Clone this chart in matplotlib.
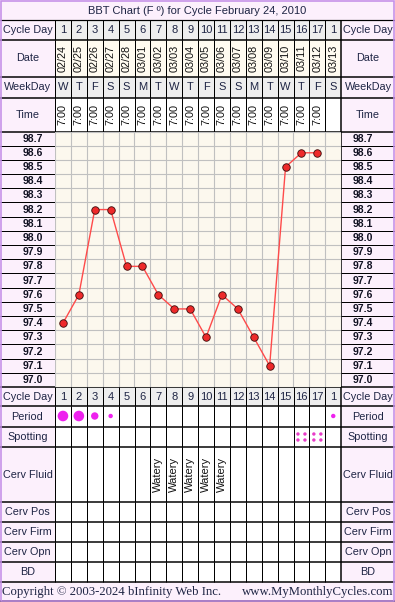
import numpy as np
import matplotlib
matplotlib.use("Agg")
import matplotlib.pyplot as plt
from matplotlib.patches import Rectangle, Circle

# --- data -------------------------------------------------------------
title = "BBT Chart (F º) for Cycle February 24, 2010"
cycle_days = [str(d) for d in range(1, 18)] + ["1"]
dates = ["02/24", "02/25", "02/26", "02/27", "02/28", "03/01", "03/02", "03/03", "03/04",
         "03/05", "03/06", "03/07", "03/08", "03/09", "03/10", "03/11", "03/12", "03/13"]
weekdays = ["W", "T", "F", "S", "S", "M", "T", "W", "T", "F", "S", "S", "M", "T", "W", "T", "F", "S"]
times = ["7:00"] * 17 + [""]
temps = [97.4, 97.6, 98.2, 98.2, 97.8, 97.8, 97.6, 97.5, 97.5, 97.3, 97.6, 97.5, 97.3, 97.1,
         98.5, 98.6, 98.6, None]
temp_labels = ["98.7", "98.6", "98.5", "98.4", "98.3", "98.2", "98.1", "98.0", "97.9",
               "97.8", "97.7", "97.6", "97.5", "97.4", "97.3", "97.2", "97.1", "97.0"]
period = [3, 3, 2, 1, 0, 0, 0, 0, 0, 0, 0, 0, 0, 0, 0, 0, 0, 1]   # 3 heavy .. 1 light
spotting = [0] * 15 + [1, 1, 0]
cerv_fluid = [""] * 6 + ["Watery"] * 5 + [""] * 7
bottom_rows = ["Cerv Pos", "Cerv Firm", "Cerv Opn", "BD"]

# --- layout (pixels) --------------------------------------------------
W, H = 395, 602
X0, CW, NC = 55, 15.9, 18
XE = X0 + CW * np.arange(NC + 1)
XR = XE[-1]
PINK = "#fcf0fc"
GRAY = "#eeeeee"
CREAM = "#fcf8ee"
DATEBG = "#fffbf0"
PURPLE = "#c58fe8"
TXT = "#1e2444"
SANS = "Liberation Sans"
SERIF = "Liberation Serif"

rows = {
    "title": (0, 20), "cday": (20, 39.5), "date": (39.5, 76.5), "wday": (76.5, 97.5),
    "time": (97.5, 131.5), "chart": (131.5, 387), "cday2": (387, 406),
    "period": (406, 427), "spot": (427, 447), "fluid": (447, 502),
    "Cerv Pos": (502, 522), "Cerv Firm": (522, 542), "Cerv Opn": (542, 562),
    "BD": (562, 581.5), "copy": (581.5, 601),
}

fig = plt.figure(figsize=(W / 100, H / 100), dpi=100)
base = fig.add_axes([0, 0, 1, 1])
base.set_xlim(0, W)
base.set_ylim(H, 0)
base.axis("off")


def rect(x0, y0, x1, y1, color):
    base.add_patch(Rectangle((x0, y0), x1 - x0, y1 - y0, facecolor=color, edgecolor="none", zorder=0))


def hline(y, x0=0, x1=W, lw=1.5, color="black"):
    base.plot([x0, x1], [y, y], color=color, lw=lw * 0.72, solid_capstyle="butt", zorder=3)


def vline(x, y0, y1, lw=1.0, color="black"):
    base.plot([x, x], [y0, y1], color=color, lw=lw * 0.72, solid_capstyle="butt", zorder=3)


def mid(r):
    return (rows[r][0] + rows[r][1]) / 2


def side_labels(r, text, **kw):
    base.text(X0 / 2, mid(r), text, ha="center", va="center", fontsize=7.8, family=SANS, color=TXT, **kw)
    base.text((XR + W) / 2, mid(r), text, ha="center", va="center", fontsize=7.8, family=SANS, color=TXT, **kw)


# backgrounds
rect(0, 0, W, H, "white")
rect(0, rows["title"][0], W, rows["title"][1], PINK)
rect(0, rows["copy"][0], W, rows["copy"][1], PINK)
for r in rows:
    if r in ("title", "copy"):
        continue
    t, b = rows[r]
    rect(0, t, X0, b, PINK)
    rect(XR, t, W, b, PINK)
for r in ("cday", "wday", "cday2"):
    rect(X0, rows[r][0], XR, rows[r][1], GRAY)
rect(X0, rows["date"][0], XR, rows["date"][1], DATEBG)

# title & copyright
base.text(W / 2, mid("title") + 0.5, title, ha="center", va="center", fontsize=8, family=SANS, color=TXT)
base.text(2, mid("copy") + 0.5, "Copyright © 2003-2024 bInfinity Web Inc.", ha="left", va="center",
          fontsize=9.2, family=SERIF, color=TXT)
base.text(W - 2, mid("copy") + 0.5, "www.MyMonthlyCycles.com", ha="right", va="center",
          fontsize=9.2, family=SERIF, color=TXT)

# row labels
side_labels("cday", "Cycle Day")
side_labels("date", "Date")
side_labels("wday", "WeekDay")
side_labels("time", "Time")
side_labels("cday2", "Cycle Day")
side_labels("period", "Period")
side_labels("spot", "Spotting")
side_labels("fluid", "Cerv Fluid")
for r in bottom_rows:
    side_labels(r, r)

# per-day cells
for i in range(NC):
    cx = (XE[i] + XE[i + 1]) / 2
    base.text(cx, mid("cday"), cycle_days[i], ha="center", va="center", fontsize=8, family=SANS, color=TXT)
    base.text(cx, mid("cday2"), cycle_days[i], ha="center", va="center", fontsize=8, family=SANS, color=TXT)
    base.text(cx, mid("date"), dates[i], ha="center", va="center", rotation=90, fontsize=7.8,
              family=SANS, color="#111111")
    base.text(cx, mid("wday"), weekdays[i], ha="center", va="center", fontsize=8, family=SANS, color=TXT)
    if times[i]:
        base.text(cx, mid("time"), times[i], ha="center", va="center", rotation=90, fontsize=7.8,
                  family=SANS, color="#111111")
    if cerv_fluid[i]:
        base.text(cx, mid("fluid"), cerv_fluid[i], ha="center", va="center", rotation=90, fontsize=8,
                  family=SANS, color="#111111")
    if period[i]:
        rad = {3: 5.3, 2: 3.7, 1: 2.2}[period[i]]
        base.add_patch(Circle((cx, mid("period") - 0.5), rad, facecolor="#ee22ee", edgecolor="none", zorder=4))
    if spotting[i]:
        for dx in (-3.5, 3.5):
            for dy in (-3, 3):
                base.add_patch(Circle((cx + dx, mid("spot") + dy), 1.7, facecolor="#e83cc8",
                                      edgecolor="none", zorder=4))

# temperature labels + their row lines
ct, cb = rows["chart"]
rh = (cb - ct) / len(temp_labels)
for k, lab in enumerate(temp_labels):
    y = ct + rh * (k + 0.5)
    base.text(33, y, lab, ha="center", va="center", fontsize=7.5, fontweight="bold", family=SANS, color="#111122")
    base.text(363, y, lab, ha="center", va="center", fontsize=7.5, fontweight="bold", family=SANS, color="#111122")
    if k > 0:
        hline(ct + rh * k, 0, X0, lw=1)
        hline(ct + rh * k, XR, W, lw=1)

# table grid lines
for r in rows:
    hline(rows[r][1], lw=1.2 if r == "title" else 1.5)
for r in ("cday", "date", "wday", "time", "cday2", "period", "spot", "fluid") + tuple(bottom_rows):
    t, b = rows[r]
    for x in XE[1:-1]:
        vline(x, t, b)
    vline(X0, t, b)
    vline(XR, t, b, lw=1.5)
vline(XR, ct, cb, lw=1.5)

# outer border
base.add_patch(Rectangle((0.8, 0.8), W - 1.6, H - 1.6, facecolor="none", edgecolor=PURPLE, lw=1.6 * 0.72, zorder=5))

# --- temperature chart ------------------------------------------------
ax = fig.add_axes([X0 / W, 1 - cb / H, (XR - X0) / W, (cb - ct) / H], zorder=2)
ax.set_facecolor(CREAM)
ax.set_xlim(0.5, NC + 0.5)
ax.set_ylim(96.95, 98.75)
ax.set_xticks(np.arange(0.5, NC + 0.6, 1))
ax.set_yticks(np.arange(96.95, 98.76, 0.1))
ax.tick_params(length=0, labelleft=False, labelbottom=False)
ax.grid(True, color="#c0c0c0", lw=0.8)
for s in ax.spines.values():
    s.set_visible(False)
days = [i + 1 for i, t in enumerate(temps) if t is not None]
vals = [t for t in temps if t is not None]
ax.plot(days, vals, color="#ff4a4a", lw=1.0, zorder=3)
ax.plot(days, vals, "o", ms=5.4, mfc="#ee2a2a", mec="#3a0a0a", mew=0.6, zorder=4)

fig.savefig("out.png", dpi=100)
